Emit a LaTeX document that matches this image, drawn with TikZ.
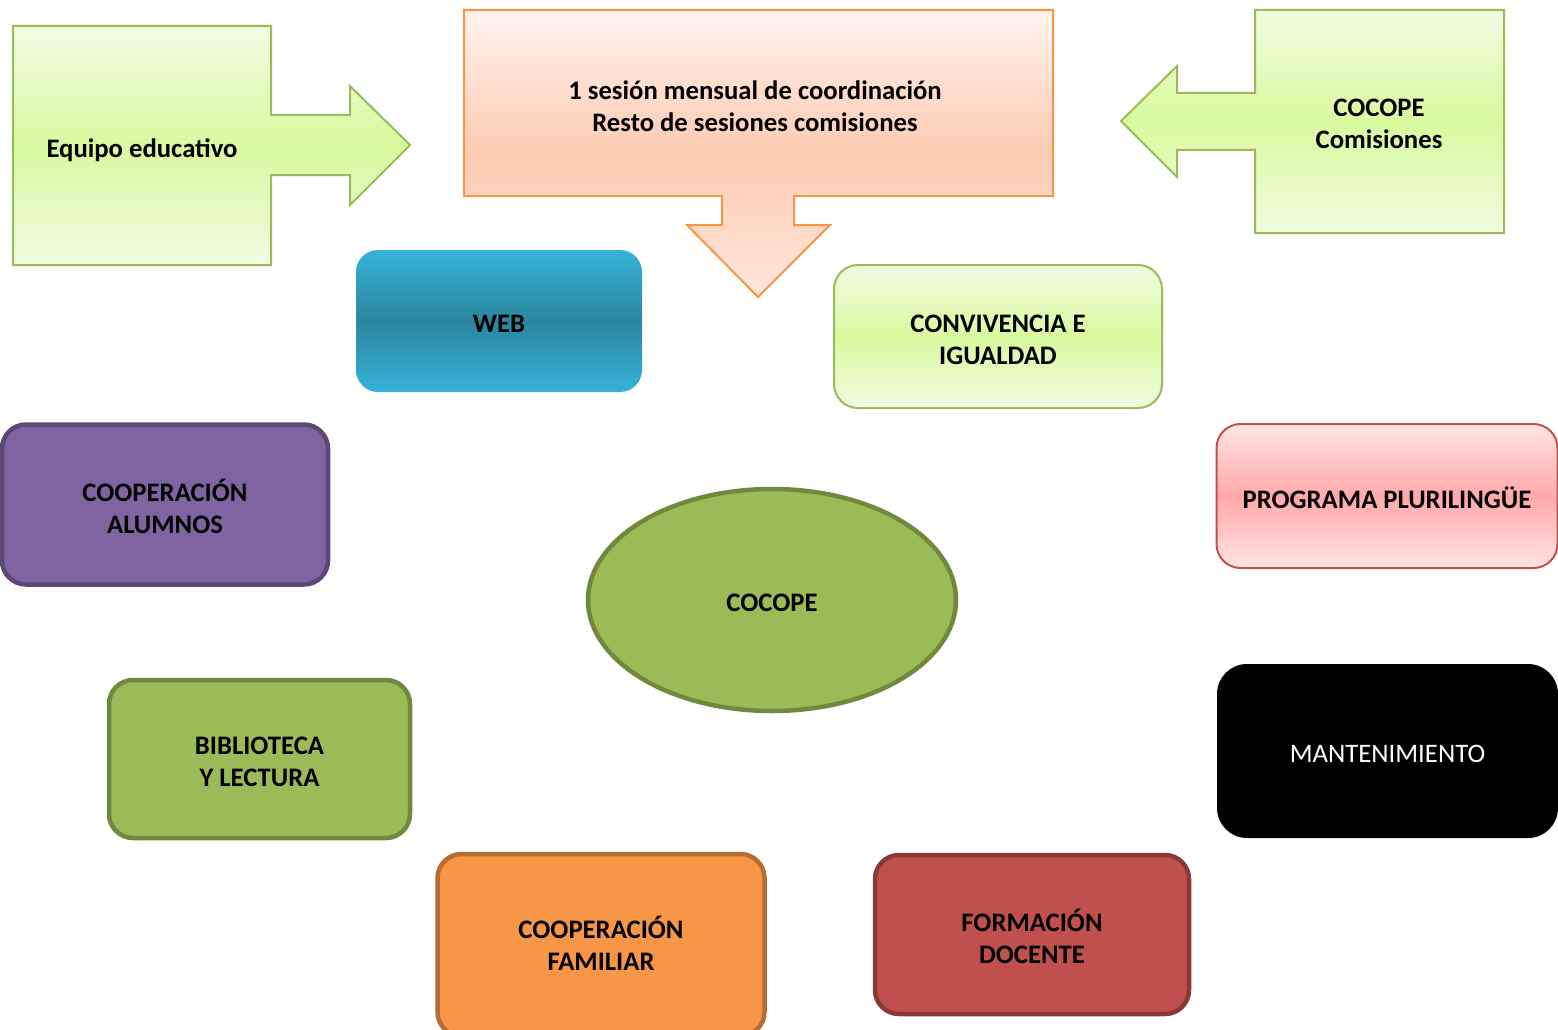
\documentclass[tikz,border=0pt]{standalone}
\usepackage{fontspec}
\setmainfont{Carlito}
\usetikzlibrary{shapes.geometric}
\definecolor{lgTop}{HTML}{F0FCE2}
\definecolor{lgMid}{HTML}{D8FA9E}
\definecolor{lgLine}{HTML}{9BBB59}
\definecolor{orTop}{HTML}{FFF3EE}
\definecolor{orMid}{HTML}{FDCBB2}
\definecolor{orLine}{HTML}{F79646}
\definecolor{webTop}{HTML}{36B3D7}
\definecolor{webMid}{HTML}{2A869F}
\definecolor{pkTop}{HTML}{FFE4E4}
\definecolor{pkMid}{HTML}{FFA9A9}
\definecolor{pkLine}{HTML}{C0504D}
\definecolor{purFill}{HTML}{8064A2}
\definecolor{purLine}{HTML}{5C4776}
\definecolor{grFill}{HTML}{9BBB59}
\definecolor{grLine}{HTML}{71893F}
\definecolor{ogFill}{HTML}{F79646}
\definecolor{ogLine}{HTML}{B66D31}
\definecolor{rdFill}{HTML}{C0504D}
\definecolor{rdLine}{HTML}{8C3836}
\begin{document}
\begin{tikzpicture}[x=1pt,y=-1pt,
  txt/.style={font=\fontsize{26.7}{32}\selectfont\bfseries, align=center, text=black, inner sep=0pt},
  box/.style={rectangle, rounded corners=24pt, inner sep=0pt},
  lightgreen/.style={draw=lgLine, line width=2pt, top color=lgTop, bottom color=lgTop, middle color=lgMid},
  thickbox/.style={line width=4.5pt}
]
\useasboundingbox (0,0) rectangle (1558,1030);
\clip (0,0) rectangle (1558,1030);

% left callout
\path[lightgreen] (13,26) -- (271,26) -- (271,115) -- (350,115) -- (350,86) -- (410,145) -- (350,205) -- (350,175) -- (271,175) -- (271,265) -- (13,265) -- cycle;
\node[txt] (equipo) at (142,150) {Equipo educativo};

% top callout
\path[draw=orLine, line width=2pt, top color=orTop, bottom color=orTop!70!orMid, middle color=orMid]
  (464,10) -- (1053,10) -- (1053,196) -- (794,196) -- (794,225) -- (830,225) -- (758,297) -- (687,225) -- (722,225) -- (722,196) -- (464,196) -- cycle;
\node[txt] (sesion) at (755,106) {1 sesión mensual de coordinación\\Resto de sesiones comisiones};

% right callout
\path[lightgreen] (1255,10) -- (1504,10) -- (1504,233) -- (1255,233) -- (1255,150) -- (1177,150) -- (1177,177) -- (1121,121) -- (1177,66) -- (1177,93) -- (1255,93) -- cycle;
\node[txt] (comisiones) at (1379,124) {COCOPE\\Comisiones};

% boxes
\node[box, rounded corners=22pt, minimum width=286pt, minimum height=142pt, top color=webTop, bottom color=webTop, middle color=webMid] (web) at (499,321) {};
\node[txt] (webT) at ([yshift=-3pt]web.center) {WEB};

\node[box, lightgreen, minimum width=328pt, minimum height=143pt] (conv) at (998,336.5) {};
\node[txt] (convT) at ([yshift=-3.5pt]conv.center) {CONVIVENCIA E\\IGUALDAD};

\node[box, draw=pkLine, line width=2pt, top color=pkTop, bottom color=pkTop, middle color=pkMid, minimum width=341pt, minimum height=144pt] (prog) at (1387,496) {};
\node[txt] (progT) at ([yshift=-1.5pt]prog.center) {PROGRAMA PLURILINGÜE};

\node[box, rounded corners=30pt, fill=black, minimum width=341pt, minimum height=174pt] (mant) at (1387.5,751) {};
\node[txt, font=\fontsize{26.7}{32}\selectfont, text=white] (mantT) at ([yshift=-3pt]mant.center) {MANTENIMIENTO};

\node[box, thickbox, draw=purLine, fill=purFill, minimum width=326pt, minimum height=160pt] (alumnos) at (165,504.5) {};
\node[txt] (alumnosT) at ([yshift=-2pt]alumnos.center) {COOPERACIÓN\\ALUMNOS};

\node[box, thickbox, draw=grLine, fill=grFill, minimum width=301pt, minimum height=158pt] (biblio) at (259.5,759) {};
\node[txt] (biblioT) at ([yshift=-3pt]biblio.center) {BIBLIOTECA\\Y LECTURA};

\node[ellipse, thickbox, draw=grLine, fill=grFill, minimum width=368pt, minimum height=222pt, inner sep=0pt] (cocope) at (772,600) {};
\node[txt] (cocopeT) at ([yshift=-3pt]cocope.center) {COCOPE};

\node[box, thickbox, draw=ogLine, fill=ogFill, minimum width=327pt, minimum height=182pt] (familiar) at (601,945) {};
\node[txt] (familiarT) at ([yshift=2pt]familiar.center) {COOPERACIÓN\\FAMILIAR};

\node[box, thickbox, draw=rdLine, fill=rdFill, minimum width=314pt, minimum height=159pt] (docente) at (1032,934.5) {};
\node[txt] (docenteT) at ([yshift=-1.5pt]docente.center) {FORMACIÓN\\DOCENTE};
\end{tikzpicture}
\end{document}
